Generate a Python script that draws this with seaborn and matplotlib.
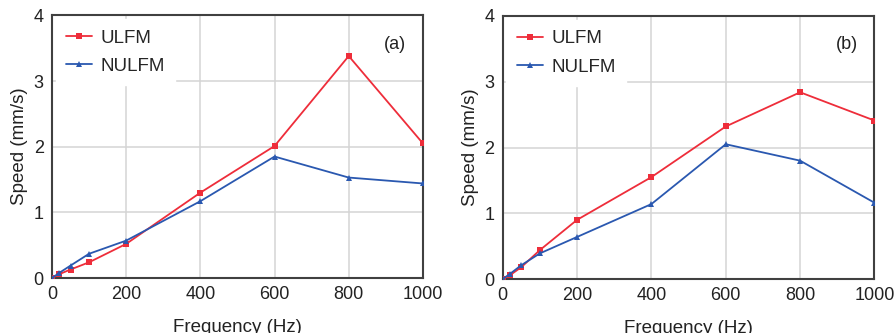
import numpy as np
import pandas as pd
import matplotlib.pyplot as plt
import seaborn as sns

freq = [0, 20, 50, 100, 200, 400, 600, 800, 1000]
ulfm_a = [0, 0.06, 0.13, 0.24, 0.52, 1.30, 2.01, 3.38, 2.05]
nulfm_a = [0, 0.08, 0.19, 0.37, 0.57, 1.17, 1.85, 1.53, 1.44]
ulfm_b = [0, 0.06, 0.18, 0.44, 0.90, 1.55, 2.32, 2.84, 2.41]
nulfm_b = [0, 0.08, 0.21, 0.39, 0.64, 1.14, 2.05, 1.80, 1.16]
panels = ['(a)', '(b)']
series_names = ['ULFM', 'NULFM']

sns.set_style('white')
plt.rcParams['font.family'] = ['Liberation Sans', 'DejaVu Sans']

palette = {'ULFM': '#ee2d3a', 'NULFM': '#2a58b0'}
markers = {'ULFM': 's', 'NULFM': '^'}

fig = plt.figure(figsize=(8.96, 3.33), dpi=100)
axes = [fig.add_axes([0.058, 0.165, 0.414, 0.789]),
        fig.add_axes([0.561, 0.162, 0.415, 0.79])]

for ax, label, u, n in zip(axes, panels, [ulfm_a, ulfm_b], [nulfm_a, nulfm_b]):
    df = pd.DataFrame({
        'Frequency': freq * 2,
        'Speed': u + n,
        'Series': ['ULFM'] * len(freq) + ['NULFM'] * len(freq),
    })
    sns.lineplot(data=df, x='Frequency', y='Speed', hue='Series', style='Series',
                 hue_order=series_names, style_order=series_names,
                 palette=palette, markers=markers, dashes=False,
                 markersize=4.5, markeredgewidth=0, linewidth=1.3, ax=ax, zorder=3)
    ax.set_xlim(0, 1000)
    ax.set_ylim(0, 4)
    ax.set_xticks([0, 200, 400, 600, 800, 1000])
    ax.set_yticks([0, 1, 2, 3, 4])
    ax.grid(True, color='#d4d4d4', linewidth=1.1)
    ax.set_axisbelow(True)
    for s in ax.spines.values():
        s.set_color('#404040')
        s.set_linewidth(1.5)
    ax.tick_params(direction='in', length=4, width=1, colors='#404040',
                   labelcolor='#222222', labelsize=13, pad=6)
    ax.set_xlabel('Frequency (Hz)', fontsize=13.5, color='#222222', labelpad=11)
    ax.set_ylabel('Speed (mm/s)', fontsize=13.5, color='#222222', labelpad=4)
    leg = ax.legend(loc='upper left', fontsize=13.5, frameon=True, fancybox=False,
                    borderaxespad=0.2, handlelength=1.4, handletextpad=0.45,
                    labelspacing=0.6, borderpad=0.55)
    leg.get_frame().set_edgecolor('white')
    leg.get_frame().set_facecolor('white')
    leg.get_frame().set_alpha(1)
    ax.text(0.925, 0.89, label, transform=ax.transAxes, ha='center', va='center',
            fontsize=13, color='#222222')

fig.savefig('out.png', dpi=100)
